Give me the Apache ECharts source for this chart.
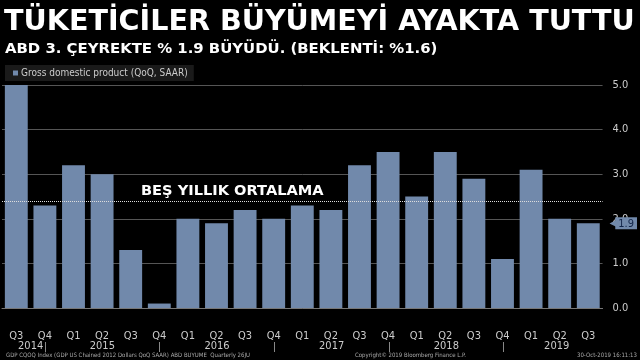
<!DOCTYPE html>
<html>
<head>
<meta charset="utf-8">
<script src="https://cdn.jsdelivr.net/npm/echarts@6/dist/echarts.min.js"></script>
<style>html,body{margin:0;padding:0;background:#000;}#c{width:640px;height:360px;}</style>
</head>
<body>
<div id="c"></div>
<script>
var quarters = ['Q3','Q4','Q1','Q2','Q3','Q4','Q1','Q2','Q3','Q4','Q1','Q2','Q3','Q4','Q1','Q2','Q3','Q4','Q1','Q2','Q3'];
var gdp = [5.0,2.3,3.2,3.0,1.3,0.1,2.0,1.9,2.2,2.0,2.3,2.2,3.2,3.5,2.5,3.5,2.9,1.1,3.1,2.0,1.9];
var years = ['2014','2015','2016','2017','2018','2019'];
var yearLabelPos = [0.5,3,7,11,15,18.85];
var yearSeparators = [1,5,9,13,17];
var fiveYearAvg = 2.39;
var seriesName = 'Gross domestic product (QoQ, SAAR)';

var narrow = '"Liberation Sans Narrow","DejaVu Sans Condensed","Liberation Sans",sans-serif';
var bold = '"DejaVu Sans",sans-serif';
var last = gdp[gdp.length-1];

var chart = echarts.init(document.getElementById('c'), null, {renderer:'canvas'});
chart.setOption({
  backgroundColor:'#000',
  animation:false,
  title:[
    {text:'TÜKETİCİLER BÜYÜMEYİ AYAKTA TUTTU', left:4, top:8, padding:0,
     textStyle:{color:'#fff', fontSize:28.6, fontWeight:'bold', fontFamily:bold}},
    {text:'ABD 3. ÇEYREKTE % 1.9 BÜYÜDÜ. (BEKLENTİ: %1.6)', left:5, top:42, padding:0,
     textStyle:{color:'#fff', fontSize:14.9, fontWeight:'bold', fontFamily:bold}},
    {text:'GDP CQOQ Index (GDP US Chained 2012 Dollars QoQ SAAR) ABD BUYUME  Quarterly 26JU', left:6, top:352, padding:0,
     textStyle:{color:'#aaa', fontSize:6, fontWeight:'normal', fontFamily:narrow}},
    {text:'Copyright© 2019 Bloomberg Finance L.P.', left:355, top:352, padding:0,
     textStyle:{color:'#aaa', fontSize:6, fontWeight:'normal', fontFamily:narrow}},
    {text:'30-Oct-2019 16:11:13', left:577, top:352, padding:0,
     textStyle:{color:'#aaa', fontSize:6, fontWeight:'normal', fontFamily:narrow}}
  ],
  legend:{
    left:5, top:65, backgroundColor:'#1a1a1a', padding:[3,6,3,8],
    icon:'rect', itemWidth:5, itemHeight:5, itemGap:0,
    textStyle:{color:'#ccc', fontSize:10, fontFamily:narrow, padding:[0,0,0,-2]},
    data:[seriesName]
  },
  grid:[
    {left:2, right:36, top:85, bottom:52, containLabel:false},
    {left:2, right:36, top:300, bottom:18, containLabel:false}
  ],
  xAxis:[
    {type:'category', data:quarters, offset:23, gridIndex:0,
     axisLine:{show:true, lineStyle:{color:'#777', width:1}},
     axisTick:{show:false},
     axisLabel:{color:'#ccc', fontSize:11, fontFamily:narrow, margin:0, interval:0},
     splitLine:{show:false}},
    {type:'value', min:-0.5, max:20.5, position:'bottom', gridIndex:1,
     axisLine:{show:false},
     axisTick:{show:true, customValues:yearSeparators, length:10, lineStyle:{color:'#888'}},
     axisLabel:{show:true, customValues:yearLabelPos, color:'#ccc', fontSize:11, fontFamily:narrow, margin:-1,
       formatter:function(v){var i=yearLabelPos.indexOf(v);return i>=0?years[i]:'';}},
     splitLine:{show:false}}
  ],
  yAxis:[
    {type:'value', min:0, max:5, interval:1, position:'right', gridIndex:0,
     axisLine:{show:false}, axisTick:{show:false},
     axisLabel:{color:'#ccc', fontSize:11, fontFamily:narrow, margin:10,
       formatter:function(v){return v.toFixed(1);}},
     splitLine:{show:true, lineStyle:{color:'#555', width:1}}},
    {type:'value', min:0, max:5, position:'right', gridIndex:0,
     axisLine:{show:false}, axisTick:{show:false}, splitLine:{show:false},
     axisLabel:{show:true, customValues:[last], margin:7,
       formatter:function(v){return '{a|◀}{b|'+v.toFixed(1)+'}';},
       rich:{
         a:{color:'#7189ab', fontSize:10, fontFamily:bold, padding:[0,-2,0,0]},
         b:{color:'#13264a', fontSize:11, fontFamily:narrow, backgroundColor:'#7189ab', padding:[1,3,0,3]}
       }}},
    {type:'value', gridIndex:1, show:false}
  ],
  series:[{
    name:seriesName, type:'bar', data:gdp, xAxisIndex:0, yAxisIndex:0,
    barCategoryGap:'20%',
    itemStyle:{color:'#7189ab'},
    markLine:{
      silent:true, symbol:'none',
      lineStyle:{color:'#ddd', type:'dotted', width:1},
      label:{show:true, position:'insideStartTop', formatter:'BEŞ YILLIK ORTALAMA',
        color:'#fff', fontSize:14.6, fontWeight:'bold', fontFamily:bold, padding:[0,0,0,136], distance:3},
      data:[{yAxis:fiveYearAvg}]
    }
  }]
});
</script>
</body>
</html>
